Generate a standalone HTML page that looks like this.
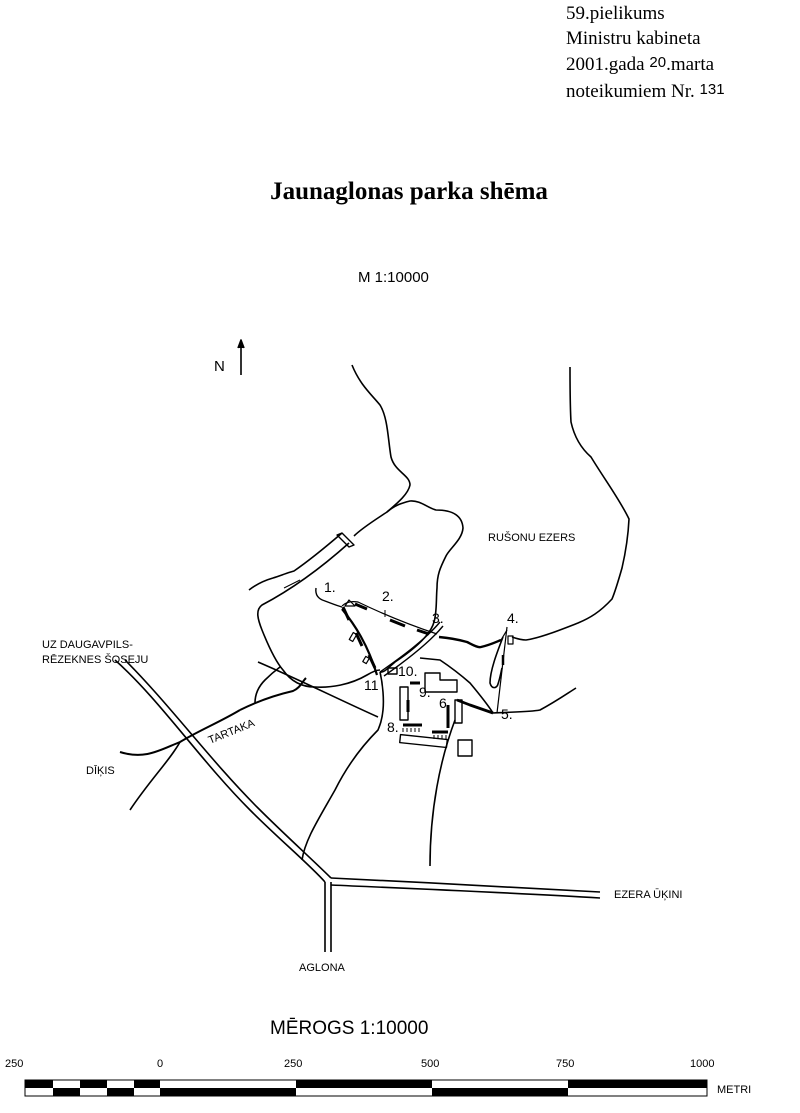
<!DOCTYPE html>
<html><head><meta charset="utf-8"><style>
body{margin:0;background:#fff;}
.t{position:absolute;font-family:"Liberation Serif",serif;color:#000;}
</style></head><body>
<div style="position:relative;width:800px;height:1113px;overflow:hidden">
<div class="t" style="left:566px;top:2px;font-size:19px;line-height:24.5px">59.pielikums<br>Ministru kabineta<br>2001.gada <span style="font-family:'Liberation Sans',sans-serif;font-size:15px;vertical-align:3px">20</span>.marta<br>noteikumiem Nr. <span style="font-family:'Liberation Sans',sans-serif;font-size:15px;vertical-align:3px">131</span></div>
<div class="t" style="left:0;width:800px;text-align:center;top:178px;font-size:25px;font-weight:bold;padding-left:18px;box-sizing:border-box">Jaunaglonas parka shēma</div>
<svg width="800" height="1113" style="position:absolute;left:0;top:0" font-family="Liberation Sans, sans-serif">
<g fill="none" stroke="#000" stroke-width="1.6" stroke-linejoin="round">
<text x="358" y="282" font-size="15" fill="#000" stroke="none">M 1:10000</text>
<text x="214" y="371" font-size="15" fill="#000" stroke="none">N</text>
<line x1="241" y1="375" x2="241" y2="342"/><path d="M238,348 L241,340 L244,348" fill="#000"/>
<!-- west shore -->
<path d="M352,365 C360,385 372,395 380,405 C388,418 388,440 391,457 C395,472 410,475 410,485 C408,495 395,505 387,512 C375,520 362,528 354,536"/>
<path d="M342,533 L354,545 L349,547 L337,535 Z" stroke-width="1.4"/>
<path d="M249,590 C258,583 266,580 273,578 C282,575 290,572 294,571 C310,560 328,545 342,533"/>
<path d="M349,543 C330,560 300,585 262,605 C255,610 258,620 262,630 C268,645 276,662 283,670 C290,680 300,687 315,687 C330,688 350,685 367,675 C372,672 376,670 380,670"/>
<!-- peninsula -->
<path d="M387,512 C395,505 402,503 410,501 C420,500 428,508 436,510 C448,510 462,513 463,528 C462,540 450,548 446,556 C440,568 437,575 437,588 C436,600 437,612 434,622 C430,637 410,652 395,662 C388,668 384,673 380,672"/>
<!-- peninsula inner paths -->
<path d="M316,588 C315,595 318,599 325,601 C333,604 338,606 342,607" stroke-width="1.4"/>
<path d="M342,606 C346,602 352,601 358,602 C385,615 410,625 437,634" stroke-width="1.2"/>
<path d="M342,609 C355,625 368,645 377,675" stroke-width="2.2"/>
<path d="M380,672 C400,658 425,640 440,622 M384,676 C404,662 430,642 443,626" stroke-width="1.4"/>
<g stroke-width="3"><path d="M343,607 L349,620 M356,633 L362,646 M369,655 L375,668 M355,604 L367,609 M390,620 L405,626 M417,630 L429,634"/></g>
<rect x="351" y="633" width="4" height="8" transform="rotate(30 353 637)" stroke-width="1.2"/>
<rect x="364" y="657" width="4" height="6" transform="rotate(30 366 660)" stroke-width="1.2"/>
<path d="M349,600 L355,606 L345,606 Z" stroke-width="1.2"/>
<!-- east shore -->
<path d="M570,367 C570,385 570,405 571,422 C575,440 583,450 591,457 C605,480 620,500 629,519 C628,540 625,555 622,568 C618,582 615,592 612,599 C600,612 590,618 578,623 C560,630 540,638 526,640 C520,640 515,638 512,637"/>
<!-- 3 to 4 -->
<path d="M439,637 C450,638 460,640 467,642 C473,645 478,648 481,647 C490,645 496,642 501,640" stroke-width="2.4"/>
<path d="M501,640 L507,630" stroke-width="1.2"/>
<!-- 4 to 5 -->
<path d="M507,627 L497,713" stroke-width="1.2"/>
<path d="M503,637 C498,650 490,670 490,683 C492,690 497,688 498,684 C500,678 501,672 502,668"/>
<rect x="508" y="636" width="5" height="8" stroke-width="1.2"/>
<path d="M503,655 L503,665" stroke-width="2.5"/>
<!-- land south of park -->
<path d="M258,662 C300,680 340,700 378,717"/>
<path d="M240,710 C260,700 280,694 293,691 C300,688 302,682 306,678" stroke-width="2"/>
<path d="M255,703 C255,693 260,685 265,680 C270,675 276,670 280,667"/>
<path d="M380,672 C383,685 384,700 383,710 C382,720 380,725 378,730 C360,748 345,770 335,790 C318,820 305,840 302,860"/>
<path d="M420,658 L440,660 C452,668 462,676 470,683 C480,695 488,705 493,713 C510,712 530,712 540,710 C555,702 565,695 576,688"/>
<path d="M455,720 C440,760 430,810 430,866"/>
<path d="M457,700 L470,705 L493,713" stroke-width="2.8"/>
<!-- roads -->
<path d="M115,660 C160,700 200,760 250,810 C280,840 310,865 325,882"/>
<path d="M125,660 C170,705 210,760 258,808 C285,835 315,862 331,878"/>
<path d="M325,882 L325,952 M331,882 L331,952"/>
<path d="M331,878 C420,882 520,888 600,892 M331,885 C420,889 520,893 600,898"/>
<!-- stream -->
<path d="M120,752 C145,760 160,750 180,742 C200,730 220,722 240,710" stroke-width="2"/>
<path d="M180,742 C170,760 150,780 130,810"/>
<!-- buildings -->
<g stroke-width="1.4">
<rect x="400" y="687" width="8" height="33"/>
<path d="M425,673 L440,673 L440,680 L457,680 L457,692 L425,692 Z"/>
<rect x="455" y="700" width="7" height="23"/>
<rect x="400" y="737" width="47" height="8" transform="rotate(6 423 741)"/>
<rect x="458" y="740" width="14" height="16"/>
<rect x="388" y="668" width="9" height="6"/>
</g>
<g stroke-width="3">
<path d="M403,725 L422,725 M432,732 L448,732 M410,683 L420,683 M408,700 L408,712 M448,705 L448,728"/>
</g>
<path d="M403,728 L403,732 M407,728 L407,732 M411,728 L411,732 M415,728 L415,732 M419,728 L419,732 M434,735 L434,739 M438,735 L438,739 M442,735 L442,739 M446,735 L446,739" stroke-width="1"/>
<path d="M284,588 L300,580 M385,610 L385,617" stroke-width="1"/>
</g>
<g font-size="14" fill="#000">
<text x="324" y="592">1.</text><text x="382" y="601">2.</text><text x="432" y="623">3.</text><text x="507" y="623">4.</text>
<text x="501" y="719">5.</text><text x="439" y="708">6.</text><text x="419" y="697">9.</text>
<text x="387" y="732">8.</text><text x="398" y="676">10.</text><text x="364" y="690">11</text>
</g>
<g font-size="11" fill="#000">
<text x="488" y="541">RUŠONU EZERS</text>
<text x="42" y="648">UZ DAUGAVPILS-</text><text x="42" y="663">RĒZEKNES ŠOSEJU</text>
<text x="210" y="744" transform="rotate(-22 210 744)">TARTAKA</text>
<text x="86" y="774">DĪĶIS</text>
<text x="614" y="898">EZERA ŪĶINI</text>
<text x="299" y="971">AGLONA</text>
</g>
<text x="270" y="1034" font-size="19" fill="#000">MĒROGS  1:10000</text>
<g font-size="11" fill="#000"><text x="5" y="1067">250</text><text x="157" y="1067">0</text><text x="284" y="1067">250</text><text x="421" y="1067">500</text><text x="556" y="1067">750</text><text x="690" y="1067">1000</text><text x="717" y="1093">METRI</text></g>
<g stroke="#000" stroke-width="1">
<rect x="25" y="1080" width="682" height="16" fill="#fff"/>
<g fill="#000" stroke="none">
<rect x="25" y="1080" width="28" height="8"/><rect x="80" y="1080" width="27" height="8"/><rect x="134" y="1080" width="26" height="8"/><rect x="296" y="1080" width="136" height="8"/><rect x="568" y="1080" width="139" height="8"/>
<rect x="53" y="1088" width="27" height="8"/><rect x="107" y="1088" width="27" height="8"/><rect x="160" y="1088" width="136" height="8"/><rect x="432" y="1088" width="136" height="8"/>
</g></g>
</svg>
</div>
</body></html>
